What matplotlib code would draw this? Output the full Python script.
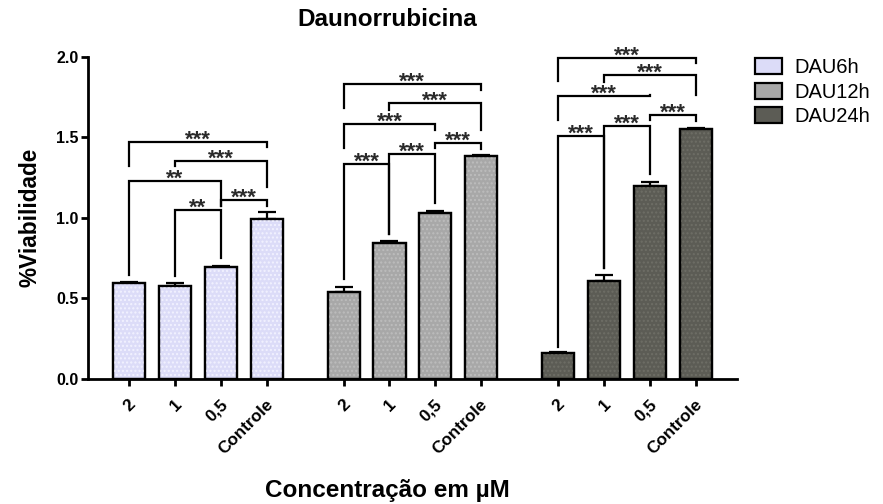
import numpy as np
import matplotlib
matplotlib.use('Agg')
import matplotlib.pyplot as plt
import matplotlib.transforms as mtransforms
from matplotlib.patches import Patch

plt.rcParams['font.family'] = ['Liberation Sans', 'DejaVu Sans']

# concentrations (uM) and treatment times
doses = ['2', '1', '0,5', 'Controle']
series = ['DAU6h', 'DAU12h', 'DAU24h']

# mean viability and upper error (SEM)
dau6h = [0.593, 0.578, 0.692, 0.995]
dau6h_err = [0.012, 0.02, 0.012, 0.04]
dau12h = [0.542, 0.846, 1.032, 1.383]
dau12h_err = [0.03, 0.01, 0.012, 0.008]
dau24h = [0.159, 0.610, 1.197, 1.549]
dau24h_err = [0.01, 0.035, 0.023, 0.01]

means = [dau6h, dau12h, dau24h]
errs = [dau6h_err, dau12h_err, dau24h_err]

colors = ['#dcdcf8', '#a8a8a8', '#5c5c55']
dots = ['#f2f2ff', '#bdbdbd', '#6e6e66']

# significance brackets per group: (i, j, label, bar height, left leg end, right leg end)
brackets = [
    [(0, 3, '***', 1.472, 1.323, 1.437),
     (1, 3, '***', 1.354, 1.323, 1.193),
     (0, 2, '**', 1.228, 0.645, 1.073),
     (2, 3, '***', 1.110, 1.073, 1.073),
     (1, 2, '**', 1.048, 0.639, 0.751)],
    [(0, 3, '***', 1.828, 1.679, 1.793),
     (1, 3, '***', 1.714, 1.669, 1.545),
     (0, 2, '***', 1.580, 1.431, 1.545),
     (2, 3, '***', 1.466, 1.431, 1.425),
     (1, 2, '***', 1.396, 0.900, 1.090),
     (0, 1, '***', 1.334, 0.620, 0.900)],
    [(0, 3, '***', 1.993, 1.849, 1.961),
     (1, 3, '***', 1.886, 1.845, 1.762),
     (0, 2, '***', 1.757, 1.607, 1.762),
     (2, 3, '***', 1.638, 1.607, 1.602),
     (1, 2, '***', 1.571, 0.687, 1.274),
     (0, 1, '***', 1.507, 0.200, 0.687)],
]

group_step = 4.68
width = 0.70

fig = plt.figure(figsize=(8.83, 5.04), dpi=100)
ax = fig.add_axes([88 / 883, 125 / 504, 649 / 883, 322.3 / 504])

xticks = []
xlabels = []
for g in range(3):
    x = np.arange(4) + g * group_step
    xticks += list(x)
    xlabels += doses
    ax.bar(x, means[g], width, color=colors[g], edgecolor='black', linewidth=1.6, zorder=2)
    # dotted fill texture
    ax.bar(x, means[g], width, color='none', edgecolor=dots[g], hatch='....', linewidth=0, zorder=2.5)
    ax.bar(x, means[g], width, color='none', edgecolor='black', linewidth=1.6, zorder=3)
    ax.errorbar(x, means[g], yerr=[np.zeros(4), errs[g]], fmt='none', ecolor='black',
                elinewidth=1.6, capsize=6.5, capthick=1.6, zorder=1)

    for i, j, lab, h, lb, rb in brackets[g]:
        xi, xj = x[i], x[j]
        ax.plot([xi, xi, xj, xj], [lb, h, h, rb], color='black', lw=1.6,
                solid_joinstyle='miter', clip_on=False, zorder=4)
        ax.annotate(lab, xy=((xi + xj) / 2, h), xytext=(0, -2.5), textcoords='offset points',
                    ha='center', va='baseline', fontsize=16, fontweight='bold',
                    color='#2a2a2a', annotation_clip=False)

ax.set_xlim(-0.895, 2 * group_step + 3 + 0.9)
ax.set_ylim(0, 2.0)
ax.set_yticks([0, 0.5, 1.0, 1.5, 2.0])
ax.set_yticklabels(['0.0', '0.5', '1.0', '1.5', '2.0'], fontsize=11.5, fontweight='bold')
ax.set_xticks(xticks)
ax.set_xticklabels([])

# rotated dose labels under each tick
shift = mtransforms.ScaledTranslation(3 / 72, -16.5 / 72, fig.dpi_scale_trans)
for xt, lab in zip(xticks, xlabels):
    ax.text(xt, 0, lab, transform=ax.get_xaxis_transform() + shift, rotation=45,
            ha='right', va='center', rotation_mode='anchor', fontsize=12.3, fontweight='bold')

ax.spines['top'].set_visible(False)
ax.spines['right'].set_visible(False)
ax.spines['left'].set_linewidth(2)
ax.spines['bottom'].set_linewidth(2)
ax.tick_params(axis='both', width=2, length=5, direction='out')
ax.tick_params(axis='y', pad=2)

ax.set_ylabel('%Viabilidade', fontsize=16.3, fontweight='bold', labelpad=10)

fig.text(387 / 883, 1 - 20 / 504, 'Daunorrubicina', ha='center', va='center',
         fontsize=17.5, fontweight='bold')
fig.text(387 / 883, 1 - 490 / 504, 'Concentração em µM', ha='center', va='center',
         fontsize=17.5, fontweight='bold')

handles = [Patch(facecolor=colors[k], edgecolor='black', linewidth=1.6) for k in range(3)]
ax.legend(handles, series, loc='upper left', bbox_to_anchor=(755 / 883, 1 - 58 / 504),
          bbox_transform=fig.transFigure, frameon=False, fontsize=14.5, borderpad=0,
          borderaxespad=0, handlelength=1.35, handleheight=0.85, labelspacing=0.28,
          handletextpad=0.6)

fig.savefig('out.png', dpi=100)
